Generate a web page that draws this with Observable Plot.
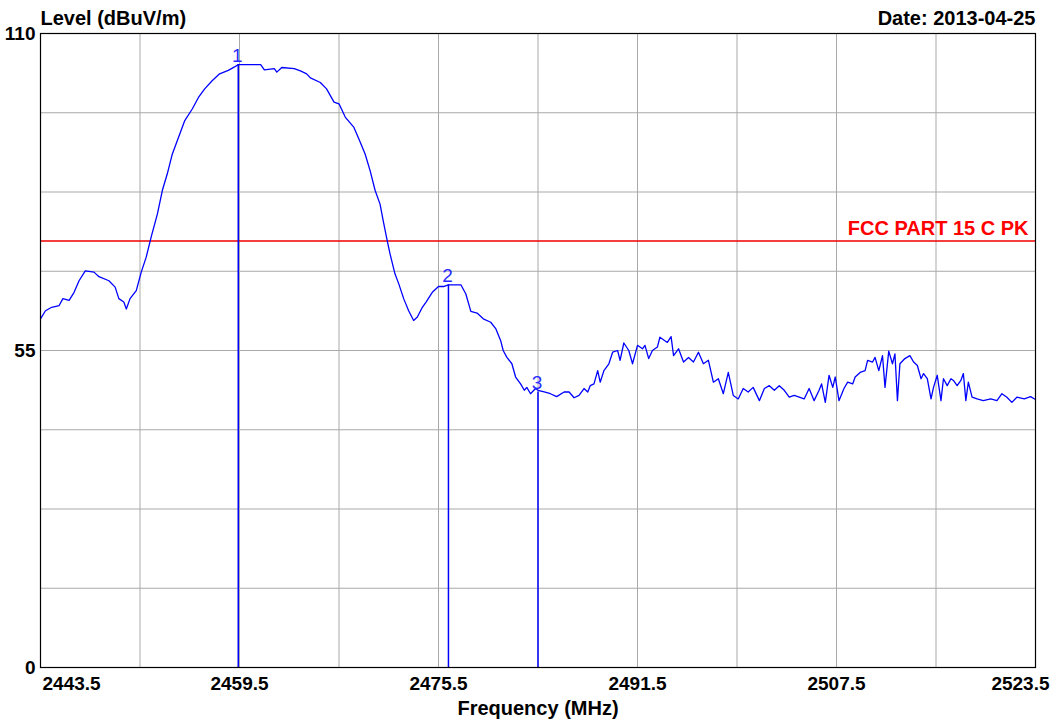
<!DOCTYPE html>
<html>
<head>
<meta charset="utf-8">
<script src="https://cdn.jsdelivr.net/npm/d3@7"></script>
<script src="https://cdn.jsdelivr.net/npm/@observablehq/plot@0.6"></script>
<style>
  html, body { margin: 0; padding: 0; background: #ffffff; }
  #chart svg { display: block; }
</style>
</head>
<body>
<div id="chart"></div>
<script>
// Trace (Frequency MHz, Level dBuV/m)
const freqs = [
  2443.5, 2443.9, 2444.4, 2445.0, 2445.3, 2445.8, 2446.2, 2446.6, 2447.1, 2447.8,
  2448.2, 2449.0, 2449.5, 2449.8, 2450.2, 2450.4, 2450.7, 2451.2, 2451.6, 2452.0,
  2452.4, 2452.9, 2453.3, 2453.7, 2454.1, 2454.6, 2455.1, 2455.7, 2456.2, 2456.7,
  2457.3, 2457.9, 2458.6, 2459.1, 2459.4, 2461.2, 2461.5, 2462.3, 2462.5, 2462.9,
  2463.9, 2464.4, 2464.9, 2465.2, 2466.0, 2466.5, 2467.1, 2467.5, 2468.0, 2468.7,
  2469.1, 2469.6, 2470.0, 2470.4, 2470.8, 2471.1, 2471.4, 2471.6, 2472.0, 2472.3,
  2472.7, 2473.1, 2473.5, 2473.8, 2474.2, 2474.5, 2475.0, 2475.5, 2475.9, 2476.3,
  2477.3, 2477.7, 2478.1, 2478.6, 2479.1, 2479.7, 2480.1, 2480.5, 2480.7, 2481.0,
  2481.4, 2481.7, 2482.1, 2482.4, 2482.6, 2482.9, 2483.3, 2483.5, 2484.0, 2484.5,
  2485.0, 2485.6, 2486.0, 2486.4, 2486.8, 2487.2, 2487.5, 2487.7, 2488.0, 2488.3,
  2488.5, 2488.8, 2489.2, 2489.5, 2489.9, 2490.1, 2490.4, 2490.8, 2491.1, 2491.5,
  2491.9, 2492.1, 2492.4, 2492.7, 2493.1, 2493.3, 2493.9, 2494.2, 2494.4, 2494.8,
  2495.2, 2495.6, 2496.0, 2496.4, 2496.8, 2497.2, 2497.6, 2498.0, 2498.4, 2498.8,
  2499.2, 2499.6, 2500.0, 2500.4, 2500.8, 2501.3, 2501.7, 2502.1, 2502.5, 2502.9,
  2503.3, 2503.7, 2504.1, 2504.5, 2504.9, 2505.3, 2505.7, 2506.1, 2506.3, 2506.6,
  2506.9, 2507.2, 2507.4, 2507.7, 2508.1, 2508.4, 2508.8, 2509.0, 2509.4, 2509.8,
  2510.0, 2510.4, 2510.6, 2510.9, 2511.2, 2511.4, 2511.7, 2512.0, 2512.2, 2512.4,
  2512.6, 2513.0, 2513.4, 2513.7, 2514.0, 2514.3, 2514.5, 2514.8, 2515.1, 2515.3,
  2515.6, 2515.9, 2516.1, 2516.4, 2516.7, 2516.9, 2517.2, 2517.5, 2517.7, 2517.9,
  2518.1, 2518.4, 2518.8, 2519.3, 2519.9, 2520.4, 2520.8, 2521.2, 2521.6, 2522.0,
  2522.6, 2523.1, 2523.5
];
const levels = [
  60.5, 61.9, 62.5, 62.8, 64.0, 63.7, 65.1, 67.1, 68.8, 68.6,
  67.8, 67.1, 66.0, 64.0, 63.4, 62.2, 64.0, 65.4, 68.6, 71.2,
  74.7, 78.7, 82.8, 85.7, 89.1, 92.0, 94.9, 96.9, 98.9, 100.4,
  101.8, 103.0, 103.6, 104.2, 104.6, 104.6, 103.7, 103.9, 103.3, 104.1,
  103.9, 103.5, 103.0, 102.3, 101.5, 100.4, 98.1, 97.8, 95.5, 93.7,
  91.7, 89.1, 86.2, 82.8, 80.4, 77.0, 73.8, 71.8, 68.3, 66.6,
  64.0, 61.9, 60.2, 60.8, 62.5, 63.4, 65.1, 66.1, 66.1, 66.4,
  66.4, 64.8, 61.8, 61.5, 60.5, 59.9, 58.8, 56.7, 55.0, 53.8,
  52.7, 50.4, 49.2, 48.1, 48.6, 47.5, 48.4, 48.1, 47.8, 47.5,
  47.0, 47.8, 47.8, 46.8, 47.2, 48.4, 47.8, 48.9, 49.2, 51.5,
  49.5, 51.5, 52.7, 54.7, 55.0, 53.3, 56.3, 55.0, 52.7, 55.9,
  55.3, 55.9, 53.6, 55.0, 55.6, 57.3, 56.4, 57.4, 54.1, 55.3,
  53.0, 53.8, 53.0, 54.7, 52.7, 53.3, 49.5, 50.1, 47.5, 51.2,
  47.2, 46.6, 48.4, 47.8, 48.6, 46.3, 48.4, 48.9, 48.1, 48.9,
  48.1, 46.9, 47.2, 46.9, 46.6, 48.4, 46.3, 48.1, 49.2, 46.0,
  50.7, 48.6, 50.4, 46.3, 48.4, 49.5, 49.2, 50.4, 51.2, 51.5,
  53.3, 53.0, 53.8, 51.5, 54.1, 48.6, 54.9, 52.7, 54.4, 46.3,
  52.7, 53.6, 54.1, 53.0, 52.4, 50.1, 51.0, 50.1, 46.6, 48.6,
  50.7, 46.3, 50.1, 48.9, 50.1, 49.8, 48.9, 49.8, 51.0, 46.3,
  49.5, 46.9, 46.6, 46.3, 46.6, 46.3, 47.5, 46.9, 46.0, 46.9,
  46.6, 47.0, 46.5
];

// Markers
const markerLabels = ["1", "2", "3"];
const markerFreqs = [2459.4, 2476.3, 2483.5];
const markerLevels = [104.6, 66.4, 47.8];

// Limit line
const limitLabel = "FCC PART 15 C PK";
const limitLevel = 74;

// Axes / ticks
const xTickLabels = [2443.5, 2459.5, 2475.5, 2491.5, 2507.5, 2523.5];
const xGridTicks = [2451.5, 2459.5, 2467.5, 2475.5, 2483.5, 2491.5, 2499.5, 2507.5, 2515.5];
const yTickLabels = [0, 55, 110];
const yGridTicks = [13.75, 27.5, 41.25, 55, 68.75, 82.5, 96.25];
const xDomain = [2443.5, 2523.5];
const yDomain = [0, 110];

const titleText = "Level (dBuV/m)";
const dateText = "Date: 2013-04-25";
const xLabelText = "Frequency (MHz)";

const trace = freqs.map((f, i) => ({f, l: levels[i]}));
const markers = markerLabels.map((m, i) => ({label: m, f: markerFreqs[i], l: markerLevels[i]}));

const FONT = "'Liberation Sans', Arial, Helvetica, sans-serif";
const TICK_FS = 19;
const HEAD_FS = 20;
const fmtX = d => d.toFixed(1);

const chart = Plot.plot({
  width: 1057,
  height: 720,
  marginLeft: 40,
  marginRight: 22,
  marginTop: 33,
  marginBottom: 53,
  x: {domain: xDomain},
  y: {domain: yDomain},
  style: {fontFamily: FONT, background: "#ffffff", color: "#000000"},
  marks: [
    Plot.gridX(xGridTicks, {stroke: "#a9a9a9", strokeOpacity: 1, strokeWidth: 1}),
    Plot.gridY(yGridTicks, {stroke: "#a9a9a9", strokeOpacity: 1, strokeWidth: 1}),
    Plot.ruleY([limitLevel], {stroke: "#ee0000", strokeWidth: 1.4}),
    Plot.text([limitLabel], {
      x: xDomain[1], y: limitLevel, text: d => d,
      textAnchor: "end", lineAnchor: "bottom", dx: -7, dy: -6,
      fill: "#ff0000", fontWeight: "bold", fontSize: HEAD_FS
    }),
    Plot.ruleX(markers, {x: "f", y1: 0, y2: "l", stroke: "#0000ff", strokeWidth: 1.5}),
    Plot.line(trace, {x: "f", y: "l", stroke: "#0000ff", strokeWidth: 1.3}),
    Plot.text(markers, {
      x: "f", y: "l", text: "label", lineAnchor: "bottom", dx: -1, dy: -3,
      fill: "#2a2aff", fontWeight: "normal", fontSize: 19
    }),
    Plot.frame({stroke: "#000000", strokeWidth: 1.2}),
    // Axes
    Plot.axisY(yTickLabels, {
      tickSize: 0, tickPadding: 5, label: null,
      fontWeight: "bold", fontSize: TICK_FS, fill: "#000000"
    }),
    Plot.axisX(xTickLabels.slice(1, -1), {
      tickSize: 0, tickPadding: 9, label: null, tickFormat: fmtX,
      fontWeight: "bold", fontSize: TICK_FS, fill: "#000000"
    }),
    Plot.axisX(xTickLabels.slice(0, 1), {
      tickSize: 0, tickPadding: 9, label: null, tickFormat: fmtX, textAnchor: "start", dx: 2,
      fontWeight: "bold", fontSize: TICK_FS, fill: "#000000"
    }),
    Plot.axisX(xTickLabels.slice(-1), {
      tickSize: 0, tickPadding: 9, label: null, tickFormat: fmtX, textAnchor: "end", dx: 14,
      fontWeight: "bold", fontSize: TICK_FS, fill: "#000000"
    }),
    // Headings
    Plot.text([titleText], {
      frameAnchor: "top-left", text: d => d, textAnchor: "start", lineAnchor: "bottom",
      dy: -9, fontWeight: "bold", fontSize: HEAD_FS, fill: "#000000"
    }),
    Plot.text([dateText], {
      frameAnchor: "top-right", text: d => d, textAnchor: "end", lineAnchor: "bottom",
      dy: -9, fontWeight: "bold", fontSize: HEAD_FS, fill: "#000000"
    }),
    Plot.text([xLabelText], {
      frameAnchor: "bottom", text: d => d, textAnchor: "middle", lineAnchor: "bottom",
      dy: 47, fontWeight: "bold", fontSize: HEAD_FS, fill: "#000000"
    })
  ]
});

document.getElementById("chart").appendChild(chart);
</script>
</body>
</html>
